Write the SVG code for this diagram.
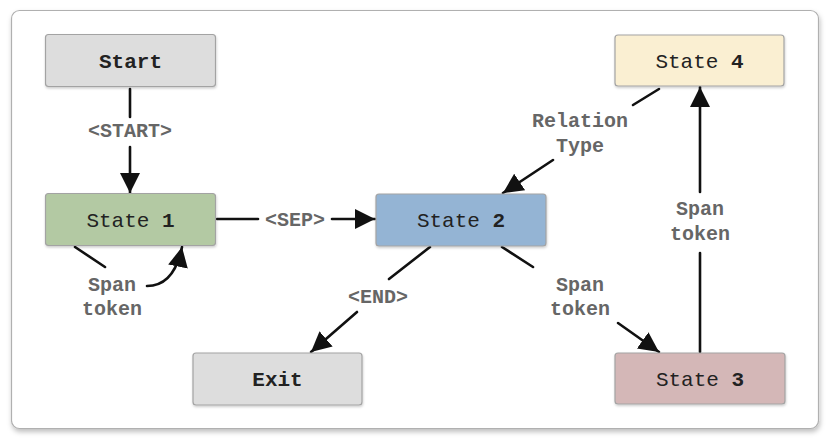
<svg xmlns="http://www.w3.org/2000/svg" width="830" height="442" viewBox="0 0 830 442">
<style>
.node rect{stroke:#a3a3a3;stroke-width:1.2}
.nt{font-family:"Liberation Mono","Courier New",monospace;font-size:21px;fill:#222;text-anchor:middle}
.b{font-weight:bold}
.el{font-family:"Liberation Mono","Courier New",monospace;font-size:20px;font-weight:bold;fill:#666;text-anchor:middle}
.c{stroke:#111;stroke-width:2.6;fill:none;stroke-linecap:round}
.a{marker-end:url(#ah)}
</style>
<defs>
<filter id="fs" x="-5%" y="-5%" width="110%" height="115%">
<feDropShadow dx="1" dy="3" stdDeviation="2.5" flood-color="#000" flood-opacity="0.25"/>
</filter>
<filter id="ns" x="-5%" y="-10%" width="110%" height="130%">
<feDropShadow dx="0.5" dy="1.5" stdDeviation="1" flood-color="#000" flood-opacity="0.2"/>
</filter>
<marker id="ah" viewBox="0 0 10 10" refX="10" refY="5" markerWidth="20" markerHeight="22" markerUnits="userSpaceOnUse" orient="auto">
<path d="M0,0 L10,5 L0,10 z" fill="#111"/>
</marker>
</defs>
<rect x="0" y="0" width="830" height="442" fill="#ffffff"/>
<rect x="11.5" y="10.5" width="807" height="418" rx="8" fill="#ffffff" stroke="#b0b0b0" stroke-width="1.2" filter="url(#fs)"/>

<g id="connectors">
<!-- Start -> State 1 -->
<path class="c" d="M130,89 L130,117"/>
<path class="c a" d="M130,147 L130,193"/>
<!-- State 1 -> State 2 -->
<path class="c" d="M217,219 L258,219"/>
<path class="c a" d="M332,219 L375,219"/>
<!-- State 2 -> Exit -->
<path class="c" d="M430,247 L389,279"/>
<path class="c a" d="M357,312 L311,352"/>
<!-- State 2 -> State 3 -->
<path class="c" d="M502,247 L533,267"/>
<path class="c a" d="M618,323 L659,352"/>
<!-- State 3 -> State 4 -->
<path class="c" d="M700,352 L700,253"/>
<path class="c a" d="M700,192 L700,87"/>
<!-- State 4 -> State 2 -->
<path class="c" d="M659,89 L633,105"/>
<path class="c a" d="M553,160 L503,193"/>
<!-- State 1 self loop -->
<path class="c" d="M75,247 L105,267"/>
<path class="c a" d="M147,286 Q174,286 182,247"/>
</g>

<g id="edge-labels">
<text class="el" x="130" y="137">&lt;START&gt;</text>
<text class="el" x="295" y="226">&lt;SEP&gt;</text>
<text class="el" x="378" y="303">&lt;END&gt;</text>
<text class="el" x="580" y="127">Relation</text>
<text class="el" x="580" y="152">Type</text>
<text class="el" x="700" y="215">Span</text>
<text class="el" x="700" y="240">token</text>
<text class="el" x="580" y="291">Span</text>
<text class="el" x="580" y="315">token</text>
<text class="el" x="112" y="291">Span</text>
<text class="el" x="112" y="315">token</text>
</g>

<g id="start" class="node">
<rect x="45.5" y="34.5" width="170" height="52" rx="3" fill="#dddddd" filter="url(#ns)"/>
<text class="nt b" x="130.5" y="67.5">Start</text>
</g>
<g id="state1" class="node">
<rect x="45.5" y="193.5" width="170" height="52" rx="3" fill="#b3c9a3" filter="url(#ns)"/>
<text class="nt" x="130.5" y="226.5">State <tspan class="b">1</tspan></text>
</g>
<g id="state2" class="node">
<rect x="376" y="194" width="170" height="52" rx="3" fill="#94b4d4" filter="url(#ns)"/>
<text class="nt" x="461" y="227">State <tspan class="b">2</tspan></text>
</g>
<g id="exit" class="node">
<rect x="193" y="353" width="169" height="52" rx="3" fill="#dddddd" filter="url(#ns)"/>
<text class="nt b" x="277.5" y="386">Exit</text>
</g>
<g id="state4" class="node">
<rect x="615" y="35" width="169" height="51" rx="3" fill="#faefd2" filter="url(#ns)"/>
<text class="nt" x="699.5" y="67.5">State <tspan class="b">4</tspan></text>
</g>
<g id="state3" class="node">
<rect x="615" y="353" width="170" height="51" rx="3" fill="#d4b7b7" filter="url(#ns)"/>
<text class="nt" x="700" y="385.5">State <tspan class="b">3</tspan></text>
</g>
</svg>
